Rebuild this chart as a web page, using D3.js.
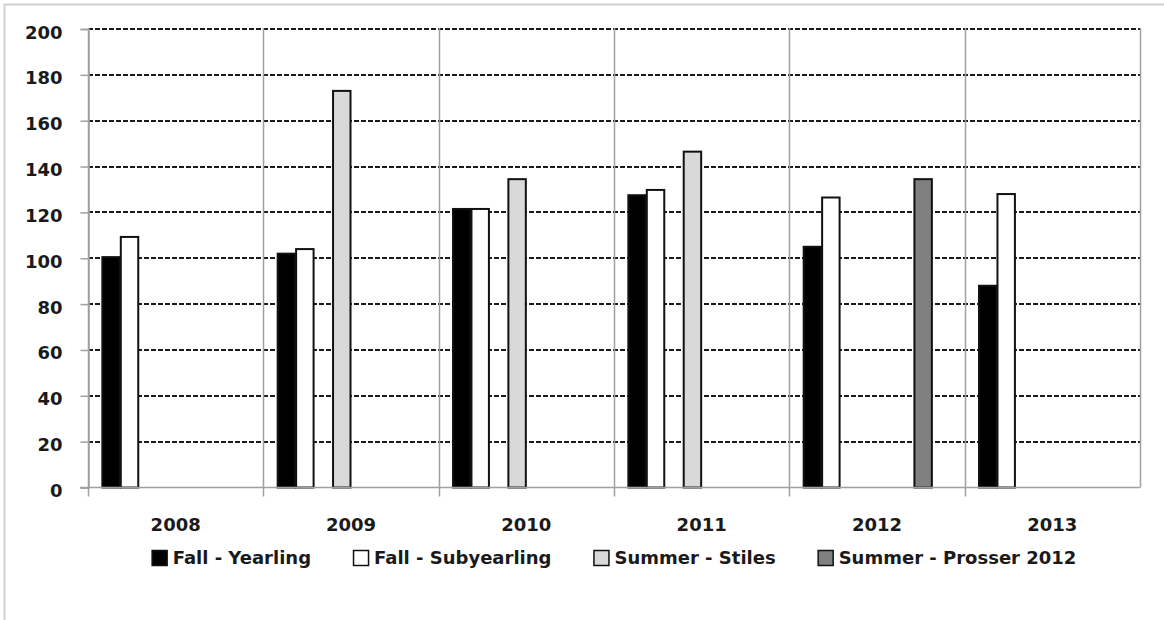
<!DOCTYPE html>
<html lang="en">
<head>
<meta charset="utf-8">
<script src="https://cdn.jsdelivr.net/npm/d3@7/dist/d3.min.js"></script>
<style>
  body { margin: 0; background: #fff; }
  svg text { font-family: "DejaVu Sans", sans-serif; font-weight: bold; fill: #1a1a1a; }
</style>
</head>
<body>
<script>
    // Data
    const years = ["2008", "2009", "2010", "2011", "2012", "2013"]
    const fallYearling = [100.5, 102, 121.5, 127.5, 105, 88]
    const fallSubyearling = [109.3, 104, 121.5, 129.8, 126.5, 128]
    const summerStiles = [null, 173, 134.5, 146.5, null, null]
    const summerProsser = [null, null, null, null, 134.5, null]
    const seriesNames = ["Fall - Yearling", "Fall - Subyearling", "Summer - Stiles", "Summer - Prosser 2012"]
    const yTicks = [0, 20, 40, 60, 80, 100, 120, 140, 160, 180, 200]

    // the workbook had 8 series per year, only 4 carry data: slot of each one
    const slots = [0, 1, 3, 6]
    const slotCount = 8
    const fills = ["#000000", "#ffffff", "#d9d9d9", "#808080"]
    const values = [fallYearling, fallSubyearling, summerStiles, summerProsser]

    const w = 1164
    const h = 620
    const margin = {left: 88, right: 24, top: 29, bottom: 133}

    const svg = d3.select("body").append("svg")
        .attr("width", w)
        .attr("height", h)

    // outer frame of the picture (only top and left are visible)
    svg.append("path")
        .attr("d", "M4.5," + h + "V4.5H" + w)
        .attr("fill", "none")
        .attr("stroke", "#d0d0d0")
        .attr("stroke-width", 2)

    const x0 = d3.scaleBand()
        .domain(years)
        .range([margin.left, w - margin.right])
    const x1 = d3.scaleBand()
        .domain(d3.range(slotCount))
        .range([0, x0.bandwidth()])
        .paddingOuter(0.75)
    const y = d3.scaleLinear()
        .domain([0, 200])
        .range([h - margin.bottom + 0.5, margin.top])

    // dashed horizontal grid
    svg.append("g")
        .selectAll("line")
        .data(yTicks.filter(d => d > 0))
        .join("line")
        .attr("x1", margin.left)
        .attr("x2", w - margin.right)
        .attr("y1", d => Math.round(y(d)))
        .attr("y2", d => Math.round(y(d)))
        .attr("stroke", "#1a1a1a")
        .attr("stroke-width", 2)
        .attr("stroke-dasharray", "5,2")

    // solid grey category separators, also make the bottom tick marks
    const bounds = years.map(d => x0(d)).concat([x0.range()[1]])
    svg.append("g")
        .selectAll("line")
        .data(bounds)
        .join("line")
        .attr("x1", d => Math.round(d) + 0.5)
        .attr("x2", d => Math.round(d) + 0.5)
        .attr("y1", y(200) - 1)
        .attr("y2", (d, i) => i < bounds.length - 1 ? y(0) + 9 : y(0))
        .attr("stroke", "#a0a0a0")
        .attr("stroke-width", 1.5)

    // bars
    const groups = svg.append("g")
        .selectAll("g")
        .data(years)
        .join("g")
        .attr("transform", d => "translate(" + x0(d) + ",0)")

    groups.selectAll("rect")
        .data((d, i) => values.map((s, k) => ({k: k, v: s[i]})).filter(e => e.v != null))
        .join("rect")
        .attr("x", d => x1(slots[d.k]) + 0.5)
        .attr("width", x1.bandwidth() - 1)
        .attr("y", d => y(d.v))
        .attr("height", d => y(0) - y(d.v))
        .attr("fill", d => fills[d.k])
        .attr("stroke", "#111")
        .attr("stroke-width", 2)

    // y axis
    const yAxis = svg.append("g")
        .attr("transform", "translate(" + (margin.left + 0.5) + ",0)")
        .call(d3.axisLeft(y).tickValues(yTicks).tickSize(8).tickPadding(18))
    yAxis.select(".domain").attr("stroke", "#a0a0a0").attr("stroke-width", 1.5)
    yAxis.selectAll(".tick line").attr("stroke", "#a0a0a0").attr("stroke-width", 1.5)
    yAxis.selectAll(".tick text")
        .attr("font-size", 18)
        .attr("font-family", null)
        .attr("dy", "0.5em")

    // baseline
    svg.append("line")
        .attr("x1", margin.left - 8)
        .attr("x2", w - margin.right)
        .attr("y1", y(0))
        .attr("y2", y(0))
        .attr("stroke", "#a0a0a0")
        .attr("stroke-width", 1.5)

    // x axis labels
    const xAxis = svg.append("g")
        .attr("transform", "translate(0," + y(0) + ")")
        .call(d3.axisBottom(x0).tickSize(0).tickPadding(31))
    xAxis.select(".domain").remove()
    xAxis.selectAll(".tick text")
        .attr("font-size", 18)
        .attr("font-family", null)

    // legend, centred under the plot
    const legend = svg.append("g")
    const items = legend.selectAll("g")
        .data(seriesNames)
        .join("g")
    items.append("rect")
        .attr("x", 0.5)
        .attr("y", 550.5)
        .attr("width", 15)
        .attr("height", 15)
        .attr("fill", (d, i) => fills[i])
        .attr("stroke", "#111")
        .attr("stroke-width", 1.5)
    items.append("text")
        .attr("x", 21)
        .attr("y", 564)
        .attr("font-size", 18)
        .text(d => d)
    let cx = 0
    items.each(function() {
        const g = d3.select(this)
        g.attr("transform", "translate(" + cx + ",0)")
        cx += 21 + g.select("text").node().getComputedTextLength() + 42
    })
    const total = cx - 42
    legend.attr("transform", "translate(" + ((x0.range()[0] + x0.range()[1]) / 2 - total / 2) + ",0)")
</script>
</body>
</html>
